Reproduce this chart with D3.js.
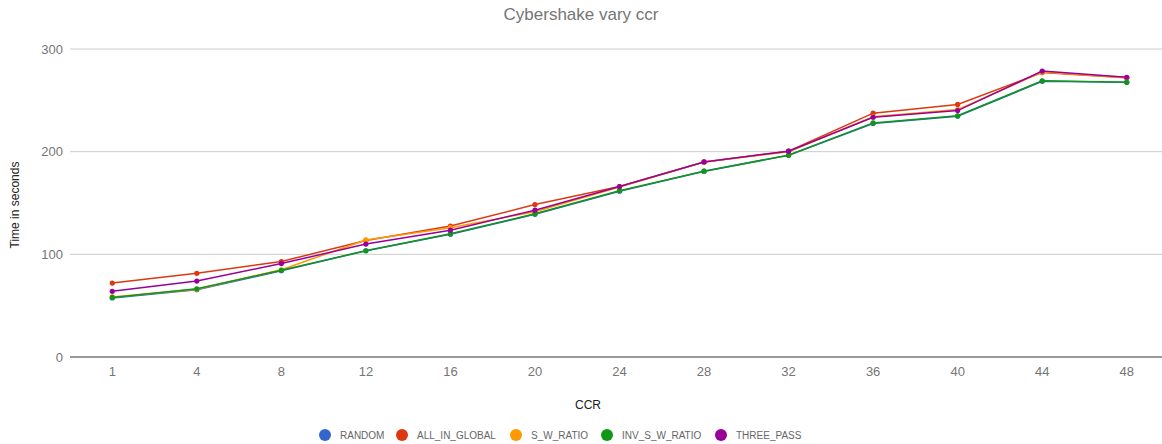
<!DOCTYPE html>
<html>
<head>
<meta charset="utf-8">
<script src="https://cdn.jsdelivr.net/npm/d3@7"></script>
<style>
  body { margin: 0; background: #fff; }
  svg { font-family: "Liberation Sans", Arial, sans-serif; display: block; }
</style>
</head>
<body>
<svg id="chart" width="1162" height="444"></svg>
<script>
// CCR values on the x axis
const categories = ["1", "4", "8", "12", "16", "20", "24", "28", "32", "36", "40", "44", "48"];
const yTicks = [0, 100, 200, 300];

// time in seconds per heuristic
const randomVals = [57.5, 65.5, 84, 103.5, 119.5, 139, 161.5, 181, 196.5, 227.5, 234.5, 268.5, 267.5];
const allInGlobal = [72, 81.5, 93, 113.5, 127.5, 148.5, 166, 190, 200.5, 237.5, 246, 277, 272];
const swRatio = [58.5, 66, 85, 114, 126, 141.5, 165.5, 190, 200, 234, 241, 277.5, 272];
const invSwRatio = [58, 66.5, 84.5, 103.5, 120, 139.5, 162, 181, 196.5, 228, 235, 269, 267.5];
const threePass = [64, 74, 91, 110, 123.5, 143, 166, 190, 200.5, 233.5, 240, 278.5, 272.5];

const seriesNames = ["RANDOM", "ALL_IN_GLOBAL", "S_W_RATIO", "INV_S_W_RATIO", "THREE_PASS"];
const seriesColors = ["#3366cc", "#dc3912", "#ff9900", "#109618", "#990099"];
const seriesData = [randomVals, allInGlobal, swRatio, invSwRatio, threePass];

const svg = d3.select("#chart");
const plotLeft = 70, plotRight = 1169, plotTop = 49, plotBottom = 357;

const x = d3.scaleBand().domain(categories).range([plotLeft, plotRight]).padding(0);
const cx = d => x(d) + x.bandwidth() / 2;
const y = d3.scaleLinear().domain([0, 300]).range([plotBottom, plotTop]);

// title
svg.append("text")
  .attr("x", 581).attr("y", 20)
  .attr("text-anchor", "middle")
  .attr("fill", "#757575")
  .style("font-size", "17px")
  .text("Cybershake vary ccr");

// gridlines
svg.append("g").selectAll("line")
  .data(yTicks.filter(t => t > 0))
  .enter().append("line")
  .attr("x1", plotLeft).attr("x2", 1162)
  .attr("y1", d => y(d)).attr("y2", d => y(d))
  .attr("stroke", "#cccccc").attr("stroke-width", 1);

// y axis labels
const yAxis = svg.append("g")
  .attr("transform", `translate(${plotLeft},0)`)
  .call(d3.axisLeft(y).tickValues(yTicks).tickSize(0).tickPadding(7));
yAxis.select(".domain").remove();
yAxis.selectAll("text")
  .attr("fill", "#757575")
  .style("font-size", "13px")
  .style("font-family", "Liberation Sans, Arial, sans-serif");

// x axis labels
const xAxis = svg.append("g")
  .attr("transform", `translate(0,${plotBottom})`)
  .call(d3.axisBottom(x).tickSize(0).tickPadding(10));
xAxis.select(".domain").remove();
xAxis.selectAll("text")
  .attr("fill", "#757575")
  .style("font-size", "13px")
  .style("font-family", "Liberation Sans, Arial, sans-serif");

// baseline
svg.append("line")
  .attr("x1", plotLeft).attr("x2", 1162)
  .attr("y1", y(0)).attr("y2", y(0))
  .attr("stroke", "#333333").attr("stroke-width", 1);

// axis titles
svg.append("text")
  .attr("x", 588).attr("y", 409)
  .attr("text-anchor", "middle")
  .attr("fill", "#222")
  .style("font-size", "12px")
  .text("CCR");

svg.append("text")
  .attr("transform", "translate(19,205) rotate(-90)")
  .attr("text-anchor", "middle")
  .attr("fill", "#222")
  .style("font-size", "12px")
  .text("Time in seconds");

// lines and points
const line = d3.line()
  .x((d, i) => cx(categories[i]))
  .y(d => y(d));

seriesData.forEach((vals, s) => {
  const g = svg.append("g");
  g.append("path")
    .datum(vals)
    .attr("d", line)
    .attr("fill", "none")
    .attr("stroke", seriesColors[s])
    .attr("stroke-width", 1.5);
  g.selectAll("circle")
    .data(vals)
    .enter().append("circle")
    .attr("cx", (d, i) => cx(categories[i]))
    .attr("cy", d => y(d))
    .attr("r", 2.6)
    .attr("fill", seriesColors[s]);
});

// legend
const legendX = [325, 402, 516, 607, 721];
const legend = svg.append("g");
seriesNames.forEach((name, i) => {
  legend.append("circle")
    .attr("cx", legendX[i]).attr("cy", 435)
    .attr("r", 6)
    .attr("fill", seriesColors[i]);
  legend.append("text")
    .attr("x", legendX[i] + 15).attr("y", 438.5)
    .attr("fill", "#666")
    .style("font-size", "10px")
    .text(name);
});
</script>
</body>
</html>
